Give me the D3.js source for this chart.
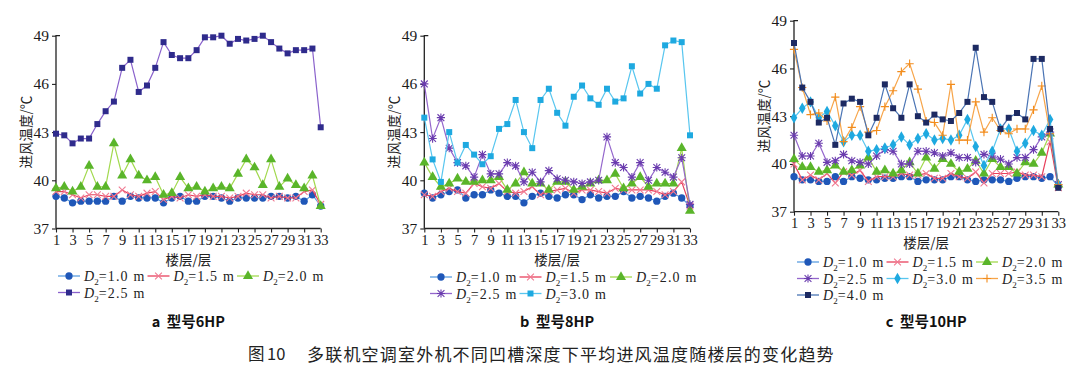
<!DOCTYPE html>
<html>
<head>
<meta charset="utf-8">
<script src="https://cdn.jsdelivr.net/npm/d3@7"></script>
<style>
  html, body { margin: 0; padding: 0; background: #fff; }
  svg { display: block; }
</style>
</head>
<body>
<svg id="chart" width="1080" height="378"></svg>
<script>
// floors on the x axis, labels only on odd floors
var floors = [1,2,3,4,5,6,7,8,9,10,11,12,13,14,15,16,17,18,19,20,21,22,23,24,25,26,27,28,29,30,31,32,33];
var floorTicks = [1,3,5,7,9,11,13,15,17,19,21,23,25,27,29,31,33];
var tempTicks = [37, 40, 43, 46, 49];

// ---- panel a : 6HP
var a_d10 = [39.0,38.9,38.6,38.7,38.7,38.7,38.7,39.0,38.7,39.0,38.9,38.9,38.9,38.6,38.9,39.0,38.7,38.7,39.0,39.0,38.9,38.7,38.9,38.9,38.9,38.9,39.0,39.0,38.9,39.0,38.7,39.1,38.4];
var a_d15 = [39.3,39.3,39.1,38.9,39.1,39.1,39.0,39.0,39.4,39.1,39.0,39.2,39.3,38.8,39.0,38.9,39.1,39.0,39.1,39.0,39.0,38.9,39.0,39.2,39.1,39.1,38.9,39.0,38.9,38.9,39.3,39.4,38.5];
var a_d20 = [39.5,39.6,39.3,39.6,40.9,39.6,39.6,42.3,40.3,41.3,40.3,40.0,40.2,39.1,39.2,40.2,39.5,39.6,39.3,39.5,39.6,39.5,40.4,41.3,40.8,39.7,41.3,39.6,40.1,39.7,39.5,40.3,38.4];
var a_d25 = [42.9,42.8,42.3,42.6,42.6,43.5,44.3,44.9,47.0,47.5,45.5,45.9,47.0,48.6,47.8,47.6,47.6,48.1,48.9,48.9,49.0,48.5,48.8,48.7,48.8,49.0,48.6,48.2,47.9,48.1,48.1,48.2,43.3];

// ---- panel b : 8HP
var b_d10 = [39.2,38.9,39.1,39.3,39.4,38.9,39.1,39.1,39.4,39.2,39.0,39.0,38.6,39.0,39.2,39.0,38.9,39.1,39.1,38.8,39.1,38.9,39.0,39.0,39.3,38.9,39.0,38.9,38.7,39.0,39.2,38.9,38.4];
var b_d15 = [39.1,39.0,39.3,39.5,39.3,39.2,39.8,39.6,39.5,39.8,39.3,39.2,39.3,39.6,39.1,39.3,39.4,39.5,39.2,39.4,39.4,39.3,39.2,39.5,39.4,39.4,39.4,39.4,39.3,39.1,39.3,39.9,38.4];
var b_d20 = [41.1,40.2,39.6,39.8,40.1,39.9,39.9,40.0,40.0,40.2,39.4,39.8,40.5,39.8,39.8,39.4,39.9,39.9,39.4,39.6,39.8,40.0,40.0,40.4,39.5,39.8,40.2,39.6,39.8,39.8,39.8,42.0,38.1];
var b_d25 = [46.0,42.6,43.9,42.0,41.1,40.9,40.2,41.6,40.4,40.4,41.1,40.9,39.9,40.5,39.9,40.6,40.1,40.0,39.9,39.8,39.9,40.0,42.7,41.1,40.8,40.2,41.1,40.0,40.8,40.5,40.2,41.4,38.5];
var b_d30 = [43.9,41.3,39.9,43.0,41.1,42.2,41.6,41.0,41.5,43.2,43.5,45.0,43.0,42.0,45.0,45.7,44.2,43.4,45.2,45.9,45.1,44.7,45.7,44.9,45.1,47.1,45.4,46.0,45.7,48.4,48.7,48.6,42.8];

// ---- panel c : 10HP
var c_d10 = [39.2,39.0,39.0,38.9,38.9,39.2,38.9,39.2,39.1,39.0,39.0,39.1,39.1,39.2,39.2,38.9,39.0,39.0,39.0,39.2,39.2,39.0,38.9,39.0,39.0,39.0,38.9,39.1,39.2,39.2,39.1,39.2,38.6];
var c_d15 = [40.0,39.0,39.3,39.0,39.4,38.8,39.5,39.3,39.6,38.9,39.2,39.2,39.2,39.4,39.3,39.3,39.4,39.1,39.1,39.4,39.2,39.1,39.5,38.8,39.4,39.4,39.4,39.5,39.3,39.3,39.2,41.4,38.5];
var c_d20 = [40.3,39.8,39.8,39.5,39.6,39.9,39.5,39.6,39.9,40.4,39.5,39.6,39.4,39.6,40.1,39.4,40.4,39.7,40.3,40.0,39.5,39.7,40.2,39.4,40.3,39.8,39.8,39.4,40.1,40.0,40.7,41.9,38.7];
var c_d25 = [41.8,40.5,40.5,41.3,40.1,40.2,40.6,40.2,40.1,40.0,40.5,40.9,40.8,40.0,40.0,40.8,40.8,40.7,40.5,40.7,40.4,40.4,40.1,40.6,40.5,40.3,40.0,40.4,40.4,40.9,41.7,42.0,38.7];
var c_d30 = [42.9,43.5,43.9,42.9,43.3,42.4,41.4,41.8,41.8,40.8,40.9,41.0,41.2,41.7,41.2,41.6,41.9,41.5,41.6,41.5,41.8,42.8,41.1,39.9,40.8,42.2,42.2,40.8,41.3,42.1,41.8,42.8,38.7];
var c_d35 = [47.2,44.8,43.1,43.2,42.7,44.2,41.4,42.3,43.6,42.0,42.1,43.6,44.6,45.8,46.3,44.7,42.7,42.6,41.8,45.0,41.5,41.5,43.9,42.0,42.9,42.1,41.9,42.2,42.2,43.4,44.9,41.9,38.7];
var c_d40 = [47.6,44.8,43.9,42.6,42.9,41.2,43.8,44.1,43.9,41.8,42.9,45.0,43.5,42.9,45.0,43.0,42.6,43.1,42.8,42.7,43.2,43.9,47.3,44.2,43.9,42.2,42.9,43.2,42.8,46.6,46.6,42.2,38.5];

var labels = ["1.0", "1.5", "2.0", "2.5", "3.0", "3.5", "4.0"];

/**
 * ------------------------------------------------------------
 * marker shapes
 */
function markerPath(kind) {
	if (kind === "circle") return d3.symbol(d3.symbolCircle, 42)();
	if (kind === "triangle") return d3.symbol(d3.symbolTriangle, 44)();
	if (kind === "square") return d3.symbol(d3.symbolSquare, 36)();
	if (kind === "diamond") return d3.symbol(d3.symbolDiamond, 38)();
	var s = 3.4, p = d3.path();
	if (kind === "x" || kind === "asterisk") {
		p.moveTo(-s, -s); p.lineTo(s, s); p.moveTo(-s, s); p.lineTo(s, -s);
	}
	if (kind === "plus" || kind === "asterisk") {
		p.moveTo(-s - 0.7, 0); p.lineTo(s + 0.7, 0); p.moveTo(0, -s - 0.7); p.lineTo(0, s + 0.7);
	}
	return p.toString();
}
var strokeOnly = { x: true, plus: true, asterisk: true };

// series styles by depth
var sty = {
	"1.0": { line: "#5b9ee0", mark: "#1f57b8", shape: "circle" },
	"1.5": { line: "#e8405c", mark: "#f07a92", shape: "x" },
	"2.0": { line: "#a2d94e", mark: "#5ab52a", shape: "triangle" },
	"2.5a": { line: "#8a62cc", mark: "#2f2b8c", shape: "square" },
	"2.5": { line: "#9466cc", mark: "#6a3cae", shape: "asterisk" },
	"3.0b": { line: "#58c6ef", mark: "#1ea9e0", shape: "square" },
	"3.0": { line: "#58c6ef", mark: "#1ea9e0", shape: "diamond" },
	"3.5": { line: "#f7a54a", mark: "#f28c1c", shape: "plus" },
	"4.0": { line: "#4a74b4", mark: "#1d2a62", shape: "square" }
};

var panels = [
	{ x0: 56, x1: 320.7, y0: 35.7, y1: 228.5, legendY: 276, cols: [58, 147.5, 237], title: "a",
	  caption: "型号6HP",
	  series: [[a_d10, "1.0"], [a_d15, "1.5"], [a_d20, "2.0"], [a_d25, "2.5a"]] },
	{ x0: 424.3, x1: 690, y0: 35.7, y1: 228.5, legendY: 277, cols: [430, 519.5, 610], title: "b",
	  caption: "型号8HP",
	  series: [[b_d10, "1.0"], [b_d15, "1.5"], [b_d20, "2.0"], [b_d25, "2.5"], [b_d30, "3.0b"]] },
	{ x0: 794, x1: 1058.3, y0: 20.7, y1: 211.7, legendY: 262, cols: [797, 886.5, 976], title: "c",
	  caption: "型号10HP",
	  series: [[c_d10, "1.0"], [c_d15, "1.5"], [c_d20, "2.0"], [c_d25, "2.5"], [c_d30, "3.0"], [c_d35, "3.5"], [c_d40, "4.0"]] }
];

var svg = d3.select("#chart");
var serif = "'Liberation Serif', 'DejaVu Serif', serif";
var cjk = "'Noto Sans CJK SC', 'Noto Sans', sans-serif";

function drawMarker(g, kind, color, x, y) {
	var m = g.append("path")
		.attr("d", markerPath(kind))
		.attr("transform", "translate(" + x + "," + y + ")");
	if (strokeOnly[kind]) {
		m.attr("fill", "none").attr("stroke", color).attr("stroke-width", 1.1);
	} else {
		m.attr("fill", color);
	}
}

panels.forEach(function(p) {
	var g = svg.append("g");
	var x = d3.scaleLinear().domain([1, 33]).range([p.x0, p.x1]);
	var y = d3.scaleLinear().domain([37, 49]).range([p.y1, p.y0]);

	// -- axes
	var xa = g.append("g").attr("transform", "translate(0," + p.y1 + ")")
		.call(d3.axisBottom(x).tickValues(floorTicks).tickSize(4).tickPadding(2).tickFormat(d3.format("d")));
	var ya = g.append("g").attr("transform", "translate(" + p.x0 + ",0)")
		.call(d3.axisLeft(y).tickValues(tempTicks).tickSize(4).tickPadding(3).tickFormat(d3.format("d")));
	[xa, ya].forEach(function(a) {
		a.select(".domain").attr("stroke", "#222").attr("stroke-width", 1.3);
		a.selectAll(".tick line").attr("stroke", "#222").attr("stroke-width", 1.1);
		a.selectAll(".tick text").attr("fill", "#1a1a1a").attr("font-family", serif);
	});
	xa.selectAll(".tick text").attr("font-size", 14.5);
	ya.selectAll(".tick text").attr("font-size", 15.5);
	xa.select(".domain").attr("d", "M" + p.x0 + ",0H" + p.x1);
	ya.select(".domain").attr("d", "M0," + p.y1 + "V" + p.y0 + "h4");

	// -- axis titles
	g.append("text")
		.attr("transform", "translate(" + (p.x0 - 31) + "," + ((p.y0 + p.y1) / 2) + ") rotate(-90)")
		.attr("text-anchor", "middle").attr("dominant-baseline", "central")
		.attr("font-family", cjk).attr("font-size", 13.5).attr("fill", "#222")
		.text("进风温度/℃");
	g.append("text")
		.attr("x", (p.x0 + p.x1) / 2).attr("y", p.y1 + 30)
		.attr("text-anchor", "middle").attr("dominant-baseline", "central")
		.attr("font-family", cjk).attr("font-size", 13.5).attr("fill", "#222")
		.text("楼层/层");

	// -- series
	var line = d3.line().x(function(d, i) { return x(floors[i]); }).y(function(d) { return y(d); });
	p.series.forEach(function(s) {
		var st = sty[s[1]];
		g.append("path").datum(s[0])
			.attr("d", line).attr("fill", "none")
			.attr("stroke", st.line).attr("stroke-width", 1.2);
		s[0].forEach(function(v, i) {
			drawMarker(g, st.shape, st.mark, x(floors[i]), y(v));
		});
	});

	// -- legend, three per row
	p.series.forEach(function(s, i) {
		var st = sty[s[1]];
		var lx = p.cols[i % 3];
		var ly = p.legendY + Math.floor(i / 3) * 16.5;
		g.append("line").attr("x1", lx).attr("x2", lx + 22).attr("y1", ly).attr("y2", ly)
			.attr("stroke", st.line).attr("stroke-width", 1.3);
		drawMarker(g, st.shape, st.mark, lx + 11, ly);
		var t = g.append("text").attr("x", lx + 26).attr("y", ly + 5)
			.attr("font-family", serif).attr("font-size", 14).attr("fill", "#222");
		t.append("tspan").attr("font-style", "italic").text("D");
		t.append("tspan").attr("font-size", 9).attr("dy", 4).text("2");
		t.append("tspan").attr("dy", -4).attr("letter-spacing", 1.2).text("=" + labels[labels.indexOf(s[1].slice(0, 3))] + " m");
	});

	// -- panel caption
	g.append("text")
		.attr("x", (p.x0 + p.x1) / 2).attr("y", 320)
		.attr("text-anchor", "middle").attr("dominant-baseline", "central")
		.attr("font-family", cjk).attr("font-size", 14.5).attr("font-weight", "bold").attr("fill", "#111")
		.attr("xml:space", "preserve")
		.text(p.title + "  " + p.caption);
});

// figure caption
svg.append("text").attr("x", 248).attr("y", 353).attr("dominant-baseline", "central")
	.attr("font-family", cjk).attr("font-size", 16.5).attr("fill", "#222").text("图");
svg.append("text").attr("x", 267).attr("y", 353).attr("dominant-baseline", "central")
	.attr("font-family", cjk).attr("font-size", 16.5).attr("fill", "#222").text("10");
svg.append("text").attr("x", 307).attr("y", 353).attr("dominant-baseline", "central")
	.attr("font-family", cjk).attr("font-size", 17).attr("letter-spacing", 1.2).attr("fill", "#222")
	.text("多联机空调室外机不同凹槽深度下平均进风温度随楼层的变化趋势");
</script>
</body>
</html>
